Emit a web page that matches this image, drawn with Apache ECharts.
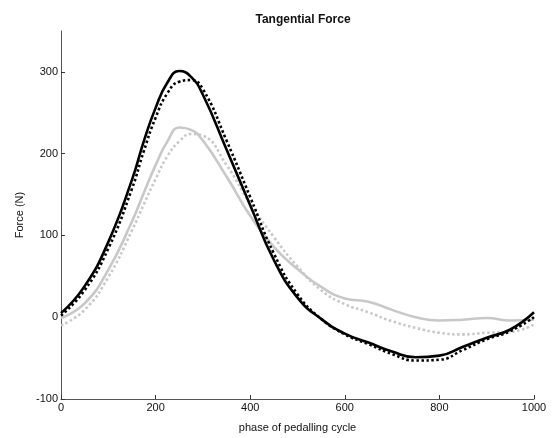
<!DOCTYPE html>
<html>
<head>
<meta charset="utf-8">
<script src="https://cdn.jsdelivr.net/npm/echarts@6/dist/echarts.min.js"></script>
<style>
  html, body { margin: 0; padding: 0; background: #fff; }
  #chart { width: 552px; height: 438px; }
</style>
</head>
<body>
<div id="chart"></div>
<script>
// phase of pedalling cycle (x)
const phase = [0, 50, 100, 150, 175, 200, 225, 250, 275, 300, 350, 400, 450, 500, 550, 600, 650, 700, 750, 800, 850, 900, 950, 1000];

// tangential force (N)
const blackSolid  = [5, 38, 92, 168, 215, 256, 287, 301, 294, 272, 205, 137, 70, 24, -2, -20, -31, -42, -49, -47, -36, -25, -15, 6];
const blackDotted = [2, 33, 84, 157, 203, 244, 274, 288, 290, 279, 216, 147, 78, 28, -2, -21, -33, -45, -53, -52, -40, -27, -17, 0];
const graySolid   = [-1, 17, 58, 117, 152, 186, 215, 232, 229, 216, 172, 124, 86, 59, 37, 23, 19, 9, 0, -4, -3, -1, -4, -3];
const grayDotted  = [-10, 9, 49, 106, 138, 169, 197, 215, 224, 222, 186, 139, 98, 62, 33, 16, 6, -5, -13, -19, -21, -19, -18, -9];

const xTicks = [0, 200, 400, 600, 800, 1000];
const yTicks = [-100, 0, 100, 200, 300];

const pairs = ys => phase.map((x, i) => [x, ys[i]]);

const chart = echarts.init(document.getElementById('chart'));

const font = 'Liberation Sans, Arial, sans-serif';

const axisCommon = {
  axisLine: { show: true, onZero: false, lineStyle: { color: '#555', width: 1 } },
  axisTick: { show: true, inside: true, length: 4, lineStyle: { color: '#333' } },
  axisLabel: { color: '#111', fontSize: 11, fontFamily: font, formatter: v => String(v) },
  splitLine: { show: false },
  nameTextStyle: { color: '#111', fontSize: 11, fontFamily: font }
};

function line(data, color, dotted) {
  return {
    type: 'line',
    data: pairs(data),
    smooth: 0.5,
    showSymbol: false,
    symbol: 'none',
    z: color === '#000' ? 3 : 2,
    lineStyle: {
      color: color,
      width: 2.6,
      type: dotted ? [2.5, 2.5] : 'solid',
      cap: 'butt'
    }
  };
}

chart.setOption({
  animation: false,
  backgroundColor: '#fff',
  title: {
    text: 'Tangential Force',
    left: 298,
    textAlign: 'center',
    top: 9,
    textStyle: { fontSize: 12, fontWeight: 'bold', color: '#111', fontFamily: font }
  },
  grid: { left: 61, right: 18, top: 31, bottom: 34 },
  xAxis: Object.assign({}, axisCommon, {
    type: 'value',
    min: 0,
    max: 1000,
    interval: 200,
    name: 'phase of pedalling cycle',
    nameLocation: 'middle',
    nameGap: 23,
    axisTick: Object.assign({}, axisCommon.axisTick, { customValues: xTicks }),
    axisLabel: Object.assign({}, axisCommon.axisLabel, { customValues: xTicks, margin: 3 })
  }),
  yAxis: Object.assign({}, axisCommon, {
    type: 'value',
    min: -100,
    max: 350,
    interval: 100,
    name: 'Force (N)',
    nameLocation: 'middle',
    nameGap: 36,
    axisTick: Object.assign({}, axisCommon.axisTick, { customValues: yTicks }),
    axisLabel: Object.assign({}, axisCommon.axisLabel, { customValues: yTicks, margin: 3 })
  }),
  series: [
    line(grayDotted, '#c8c8c8', true),
    line(graySolid, '#c8c8c8', false),
    line(blackDotted, '#000', true),
    line(blackSolid, '#000', false)
  ]
});
</script>
</body>
</html>
